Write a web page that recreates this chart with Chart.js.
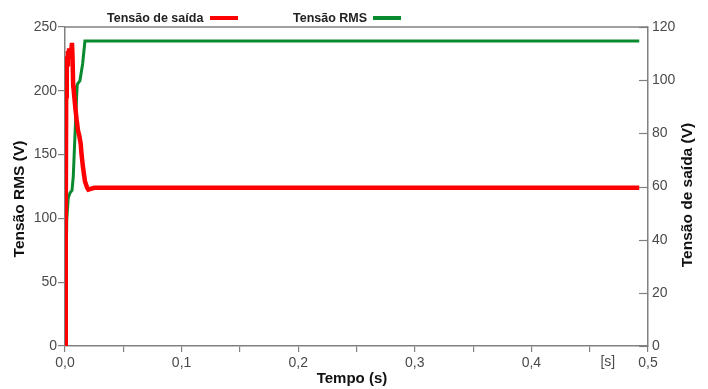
<!DOCTYPE html>
<html>
<head>
<meta charset="utf-8">
<script src="https://cdn.jsdelivr.net/npm/chart.js@4.4.1/dist/chart.umd.min.js"></script>
<style>
  html, body { margin: 0; padding: 0; background: #fff; }
  #wrap { position: relative; width: 708px; height: 389px; }
</style>
</head>
<body>
<div id="wrap"><canvas id="c" width="708" height="389"></canvas></div>
<script>
// ---- Data ----
// Tensão RMS (left axis, V)
const rmsTimes  = [0, 0.0015, 0.0028, 0.0043, 0.006, 0.0071, 0.0085, 0.0100, 0.0105, 0.0128, 0.0151, 0.0171, 0.4925];
const rmsValues = [0, 99, 116, 120, 122, 133, 164, 196, 205, 208, 221, 239, 239];

// Tensão de saída (right axis, V)
const outTimes  = [0, 0.0005, 0.0008, 0.0010, 0.0015, 0.0020, 0.0025, 0.0030, 0.0035, 0.0040, 0.0045, 0.0050, 0.0060, 0.0065, 0.0070, 0.0075, 0.0090, 0.0100, 0.0112, 0.0123, 0.0135, 0.0142, 0.0155, 0.0171, 0.0190, 0.0200, 0.0250, 0.4925];
const outValues = [0, 27, 48, 94, 109, 106, 111, 108, 112, 108, 111, 109, 114, 108, 98, 96, 89, 85, 81, 79, 76, 72, 67, 62, 59.5, 58.8, 59.5, 59.5];

// Axis tick settings
const xTickStep = 0.05;
const leftTicks = [0, 50, 100, 150, 200, 250];
const rightTicks = [0, 20, 40, 60, 80, 100, 120];

// Texts
const legendItems = [
  { label: 'Tensão de saída', color: '#ff0000' },
  { label: 'Tensão RMS', color: '#0a8a2e' }
];
const xTitle = 'Tempo (s)';
const yLeftTitle = 'Tensão RMS (V)';
const yRightTitle = 'Tensão de saída (V)';
const xUnitLabel = '[s]';

const AXIS = '#808080';
const TICKTXT = '#4a4a4a';
const FONT = "'Liberation Sans', Arial, sans-serif";

const rmsData = rmsTimes.map((t, i) => ({ x: t, y: rmsValues[i] }));
const outData = outTimes.map((t, i) => ({ x: t, y: outValues[i] }));

const framePlugin = {
  id: 'frame',
  afterDatasetsDraw(chart) {
    const { ctx, chartArea: a, scales } = chart;
    ctx.save();
    ctx.strokeStyle = AXIS;
    ctx.lineWidth = 1.5;
    ctx.beginPath();
    ctx.moveTo(a.left, a.top);
    ctx.lineTo(a.right, a.top);
    ctx.stroke();
    ctx.lineWidth = 1.2;
    const r = scales.y1;
    rightTicks.forEach(v => {
      const y = Math.round(r.getPixelForValue(v)) + 0.5;
      ctx.beginPath();
      ctx.moveTo(a.right - 9, y);
      ctx.lineTo(a.right, y);
      ctx.stroke();
    });
    ctx.restore();
  },
  afterDraw(chart) {
    const { ctx, chartArea: a, scales } = chart;
    ctx.save();
    // legend
    ctx.font = "bold 12.5px " + FONT;
    ctx.textBaseline = 'alphabetic';
    const pos = [{ tx: 107, lx: 210 }, { tx: 293, lx: 373 }];
    legendItems.forEach((it, i) => {
      ctx.fillStyle = '#222';
      ctx.textAlign = 'left';
      ctx.fillText(it.label, pos[i].tx, 21.5);
      ctx.strokeStyle = it.color;
      ctx.lineWidth = 4;
      ctx.beginPath();
      ctx.moveTo(pos[i].lx, 18);
      ctx.lineTo(pos[i].lx + 28, 18);
      ctx.stroke();
    });
    // unit label on x axis
    ctx.font = "14px " + FONT;
    ctx.fillStyle = TICKTXT;
    ctx.textAlign = 'center';
    ctx.fillText(xUnitLabel, scales.x.getPixelForValue(0.4655), 366);
    // axis titles
    ctx.fillStyle = '#111';
    ctx.font = "bold 15px " + FONT;
    ctx.fillText(xTitle, 352, 383);
    ctx.font = "bold 15.5px " + FONT;
    ctx.textBaseline = 'middle';
    ctx.save();
    ctx.translate(20, 199);
    ctx.rotate(-Math.PI / 2);
    ctx.fillText(yLeftTitle, 0, 0);
    ctx.restore();
    ctx.save();
    ctx.translate(688, 195);
    ctx.rotate(-Math.PI / 2);
    ctx.fillText(yRightTitle, 0, 0);
    ctx.restore();
    ctx.restore();
  }
};

new Chart(document.getElementById('c'), {
  type: 'line',
  data: {
    datasets: [
      {
        label: 'Tensão de saída',
        data: outData,
        yAxisID: 'y1',
        borderColor: '#ff0000',
        borderWidth: 4.5,
        pointRadius: 0,
        tension: 0,
        fill: false
      },
      {
        label: 'Tensão RMS',
        data: rmsData,
        yAxisID: 'y',
        borderColor: '#0a8a2e',
        borderWidth: 3,
        pointRadius: 0,
        tension: 0,
        fill: false
      }
    ]
  },
  options: {
    responsive: false,
    animation: false,
    devicePixelRatio: 1,
    layout: { padding: { top: 27, left: 0, right: 0, bottom: 0 } },
    plugins: { legend: { display: false }, tooltip: { enabled: false } },
    scales: {
      x: {
        type: 'linear',
        min: 0, max: 0.5,
        afterFit(s) { s.height = 43; },
        afterBuildTicks(s) {
          const t = [];
          for (let i = 0; i <= 10; i++) t.push({ value: i * xTickStep });
          s.ticks = t;
        },
        ticks: {
          autoSkip: false,
          maxRotation: 0,
          padding: 3,
          color: TICKTXT,
          font: { family: FONT, size: 14 },
          callback(v) {
            const r = Math.round(v * 100);
            if (r % 10 === 0) return (r / 100).toFixed(1).replace('.', ',');
            return '';
          }
        },
        grid: { drawOnChartArea: false, drawTicks: true, tickLength: 6, color: AXIS, lineWidth: 1.2 },
        border: { display: true, color: AXIS, width: 1.5 },
        title: { display: false }
      },
      y: {
        position: 'left',
        min: 0, max: 250,
        afterFit(s) { s.width = 65; },
        afterBuildTicks(s) { s.ticks = leftTicks.map(v => ({ value: v })); },
        ticks: { padding: 1, color: TICKTXT, font: { family: FONT, size: 14 } },
        grid: { drawOnChartArea: false, drawTicks: true, tickLength: 7, color: AXIS, lineWidth: 1.2 },
        border: { display: true, color: AXIS, width: 1.5 },
        title: { display: false }
      },
      y1: {
        position: 'right',
        min: 0, max: 120,
        afterFit(s) { s.width = 60; },
        afterBuildTicks(s) { s.ticks = rightTicks.map(v => ({ value: v })); },
        ticks: { padding: 4, color: TICKTXT, font: { family: FONT, size: 14 } },
        grid: { drawOnChartArea: false, drawTicks: false, color: AXIS },
        border: { display: true, color: AXIS, width: 1.5 },
        title: { display: false }
      }
    }
  },
  plugins: [framePlugin]
});
</script>
</body>
</html>
